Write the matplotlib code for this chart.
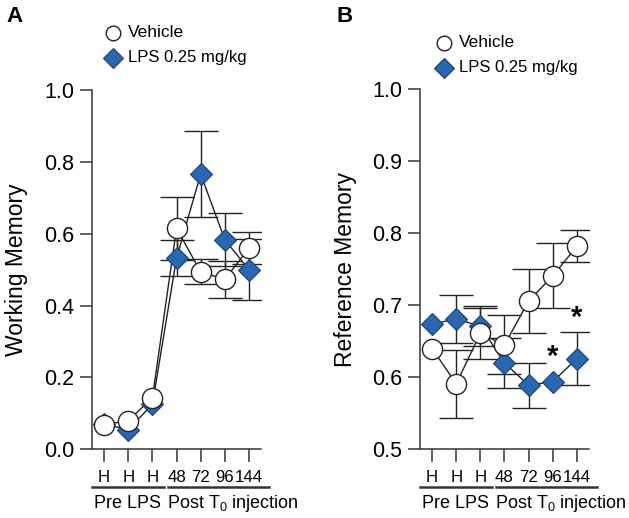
import numpy as np
import matplotlib
matplotlib.use("Agg")
import matplotlib.pyplot as plt
from matplotlib.transforms import blended_transform_factory

plt.rcParams['font.family'] = ['Liberation Sans', 'DejaVu Sans']
plt.rcParams['mathtext.fontset'] = 'custom'
plt.rcParams['mathtext.rm'] = 'Liberation Sans'
plt.rcParams['mathtext.it'] = 'Liberation Sans:italic'

# data
tick_labels = ["H", "H", "H", "48", "72", "96", "144"]

veh_wm = [0.068, 0.080, 0.143, 0.615, 0.494, 0.473, 0.560]
veh_wm_sem = [0.0, 0.0, 0.0, 0.087, 0.035, 0.052, 0.045]
lps_wm = [0.070, 0.055, 0.125, 0.532, 0.766, 0.583, 0.500]
lps_wm_sem = [0.0, 0.0, 0.0, 0.050, 0.119, 0.074, 0.085]

veh_rm = [0.640, 0.591, 0.661, 0.645, 0.706, 0.741, 0.782]
veh_rm_sem = [0.0, 0.047, 0.035, 0.041, 0.045, 0.045, 0.022]
lps_rm = [0.674, 0.681, 0.671, 0.620, 0.589, 0.594, 0.626]
lps_rm_sem = [0.0, 0.034, 0.028, 0.035, 0.031, 0.0, 0.037]

star_x = [5, 6]
star_y = [0.634, 0.689]

blue = "#2a67b1"
dark = "#222222"
axcol = "#444444"

fig = plt.figure(figsize=(6.29, 5.18), dpi=100)
axA = fig.add_axes([0.1463, 0.1326, 0.2687, 0.6937])
axB = fig.add_axes([0.6677, 0.1326, 0.2687, 0.6950])


def draw_err(ax, x, y, sem):
    # only draw bars that stick out of the marker
    x = np.asarray(x)
    y = np.asarray(y)
    sem = np.asarray(sem)
    m = sem > 0
    ax.errorbar(x[m], y[m], yerr=sem[m], fmt='none', ecolor=dark, elinewidth=1,
                capsize=12, capthick=1, zorder=1)


def draw_panel(ax, veh, veh_sem, lps, lps_sem, ylim, yticks, ylabel, leg_x, leg_y):
    x = np.arange(len(veh))
    draw_err(ax, x, lps, lps_sem)
    draw_err(ax, x, veh, veh_sem)
    ax.plot(x, lps, color=dark, lw=1, zorder=2)
    ax.plot(x, veh, color=dark, lw=1, zorder=2)
    ax.plot(x, lps, 'D', ms=11.2, mfc=blue, mec="#1a3f6e", mew=0.8,
            ls='none', zorder=3, clip_on=False)
    ax.plot(x, veh, 'o', ms=14.5, mfc='white', mec=dark, mew=1,
            ls='none', zorder=4, clip_on=False)

    ax.set_xlim(-0.5, 6.5)
    ax.set_ylim(*ylim)
    ax.set_yticks(yticks)
    ax.set_yticklabels(["%.1f" % t for t in yticks])
    ax.set_xticks(x)
    ax.set_xticklabels(tick_labels)
    for s in ['top', 'right']:
        ax.spines[s].set_visible(False)
    for s in ['left', 'bottom']:
        ax.spines[s].set_color(axcol)
        ax.spines[s].set_linewidth(1.2)
    ax.tick_params(axis='y', direction='out', length=9, width=1.2,
                   color=axcol, labelsize=15.5, pad=4)
    ax.tick_params(axis='x', direction='out', length=9, width=1.2,
                   color=axcol, labelsize=12.2, pad=6)
    ax.set_ylabel(ylabel, fontsize=16.5, labelpad=11)

    # group brackets under the axis
    tr = blended_transform_factory(ax.transData, ax.transAxes)
    ax.plot([-0.5, 2.48], [-0.106, -0.106], color="#333333", lw=1.8,
            transform=tr, clip_on=False)
    ax.plot([2.64, 6.85], [-0.106, -0.106], color="#333333", lw=1.8,
            transform=tr, clip_on=False)
    ax.text(0.98, -0.15, "Pre LPS", transform=tr, ha='center', va='center',
            fontsize=13)
    ax.text(5.35, -0.15, r"Post T$_{0}$ injection", transform=tr,
            ha='center', va='center', fontsize=13)

    # legend
    ax.plot([leg_x], [leg_y[0]], 'o', ms=10.5, mfc='white', mec=dark, mew=1,
            transform=ax.transAxes, clip_on=False)
    ax.plot([leg_x], [leg_y[1]], 'D', ms=10.5, mfc=blue, mec="#1a3f6e",
            mew=0.8, transform=ax.transAxes, clip_on=False)
    ax.text(leg_x + 0.09, leg_y[0], "Vehicle", transform=ax.transAxes,
            fontsize=12.5, va='center', ha='left')
    ax.text(leg_x + 0.09, leg_y[1], "LPS 0.25 mg/kg", transform=ax.transAxes,
            fontsize=12, va='center', ha='left')


draw_panel(axA, veh_wm, veh_wm_sem, lps_wm, lps_wm_sem, (0, 1.0),
           [0.0, 0.2, 0.4, 0.6, 0.8, 1.0], "Working Memory", 0.125, (1.159, 1.089))
draw_panel(axB, veh_rm, veh_rm_sem, lps_rm, lps_rm_sem, (0.5, 1.0),
           [0.5, 0.6, 0.7, 0.8, 0.9, 1.0], "Reference Memory", 0.142, (1.129, 1.06))

for sx, sy in zip(star_x, star_y):
    axB.text(sx, sy - 0.006, "*", ha='center', va='center', fontsize=21,
             fontweight='bold', zorder=5)

fig.text(0.023, 0.969, "A", fontsize=16, fontweight='bold', ha='center', va='center')
fig.text(0.548, 0.969, "B", fontsize=16, fontweight='bold', ha='center', va='center')

fig.savefig("out.png", dpi=100)
